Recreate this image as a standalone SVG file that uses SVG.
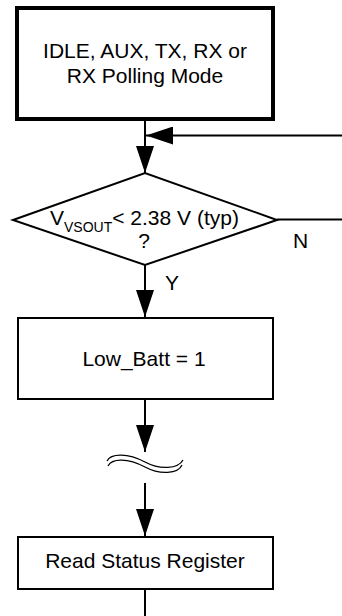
<svg xmlns="http://www.w3.org/2000/svg" width="342" height="616" viewBox="0 0 342 616">
<defs>
<style>
.box{fill:#fff;stroke:#000;stroke-width:2}
.thick{stroke-width:4}
.ln{fill:none;stroke:#000;stroke-width:2}
.thin{fill:none;stroke:#000;stroke-width:1.3}
.t{font-family:"Liberation Sans",Arial,sans-serif;font-size:21px;fill:#000}
.s{font-family:"Liberation Sans",Arial,sans-serif;font-size:14px;fill:#000}
</style>
<marker id="ah" markerUnits="userSpaceOnUse" markerWidth="27" markerHeight="18" refX="27" refY="9" orient="auto" viewBox="0 0 27 18">
<path d="M0,0 L27,9 L0,18 Z" fill="#000"/>
</marker>
</defs>
<rect width="342" height="616" fill="#fff"/>
<g id="connectors">
<line class="ln" x1="145" y1="119" x2="145" y2="173" marker-end="url(#ah)"/>
<line class="ln" x1="342" y1="135.5" x2="146" y2="135.5" marker-end="url(#ah)"/>
<line class="ln" x1="277" y1="219.5" x2="342" y2="219.5"/>
<line class="ln" x1="145" y1="265" x2="145" y2="317" marker-end="url(#ah)"/>
<line class="ln" x1="145" y1="400" x2="145" y2="452" marker-end="url(#ah)"/>
<path class="thin" d="M107,461 C111,453 128,453 145,462 C160,470 178,469 183,460"/>
<path class="thin" d="M108,466 C112,458 128,458 145,467 C160,475 178,474 182,465"/>
<line class="ln" x1="145" y1="483" x2="145" y2="536" marker-end="url(#ah)"/>
<line class="ln" x1="145" y1="589" x2="145" y2="616"/>
<text class="t" x="293" y="248">N</text>
<text class="t" x="165" y="290">Y</text>
</g>
<g id="mode">
<rect class="box thick" x="17" y="8" width="256" height="111"/>
<text class="t" x="145" y="58" text-anchor="middle">IDLE, AUX, TX, RX or</text>
<text class="t" x="145" y="83" text-anchor="middle">RX Polling Mode</text>
</g>
<g id="decision">
<polygon class="box" points="13,220 145,173 277,220 145,265"/>
<text class="t" x="50" y="225">V<tspan class="s" y="231.5">VSOUT</tspan><tspan y="225">&lt; 2.38 V (typ)</tspan></text>
<text class="t" x="144" y="248" text-anchor="middle">?</text>
</g>
<g id="lowbatt">
<rect class="box" x="18" y="318" width="255" height="81"/>
<text class="t" x="144" y="366" text-anchor="middle">Low_Batt = 1</text>
</g>
<g id="readstatus">
<rect class="box" x="18" y="537" width="255" height="52"/>
<text class="t" x="145" y="568" text-anchor="middle">Read Status Register</text>
</g>
</svg>
